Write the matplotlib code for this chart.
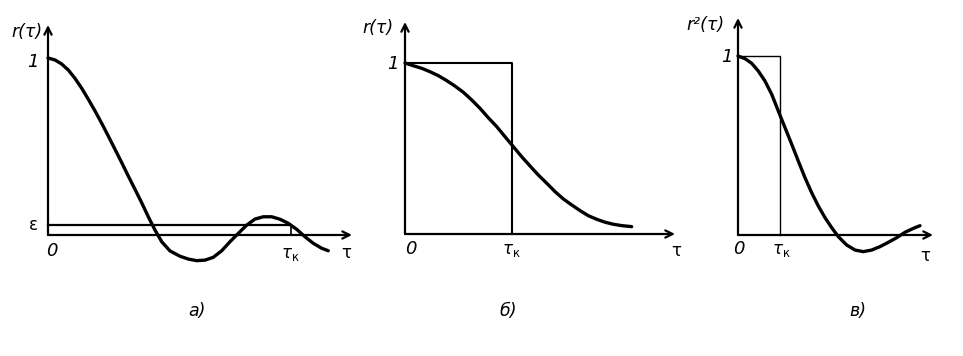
import matplotlib
matplotlib.use('Agg')
import matplotlib.pyplot as plt

plt.rcParams['font.family'] = ['DejaVu Sans']

# а) корреляционная функция r(τ)
tau_a = [0, 0.07, 0.137, 0.203, 0.27, 0.337, 0.403, 0.47, 0.537, 0.603, 0.67, 0.737, 0.803,
         0.87, 0.937, 1.003, 1.07, 1.137, 1.22, 1.32, 1.403, 1.487, 1.57, 1.653, 1.737,
         1.82, 1.903, 1.987, 2.07, 2.153, 2.237, 2.32, 2.403, 2.487, 2.57, 2.653, 2.737, 2.803]
r_a = [1.0, 0.989, 0.966, 0.932, 0.885, 0.829, 0.767, 0.701, 0.631, 0.559, 0.484, 0.409, 0.333,
       0.258, 0.182, 0.103, 0.028, -0.038, -0.090, -0.120, -0.136, -0.145, -0.142, -0.126, -0.089,
       -0.038, 0.009, 0.056, 0.090, 0.103, 0.103, 0.089, 0.066, 0.032, -0.010, -0.047, -0.075, -0.089]
eps_a = 0.056
tauk_a = 2.43

# б) r(τ) и прямоугольник
tau_b = [0, 0.083, 0.167, 0.25, 0.333, 0.417, 0.50, 0.583, 0.667, 0.75, 0.833, 0.917, 1.00, 1.083,
         1.167, 1.25, 1.333, 1.417, 1.50, 1.583, 1.667, 1.75, 1.833, 1.917, 2.00, 2.083, 2.167, 2.267]
r_b = [1.0, 0.984, 0.969, 0.949, 0.926, 0.897, 0.865, 0.829, 0.784, 0.735, 0.680, 0.628, 0.569, 0.511,
       0.452, 0.398, 0.345, 0.297, 0.248, 0.205, 0.170, 0.137, 0.107, 0.086, 0.069, 0.057, 0.049, 0.043]
tauk_b = 1.07

# в) r²(τ)
tau_c = [0, 0.07, 0.137, 0.203, 0.27, 0.337, 0.403, 0.47, 0.537, 0.603, 0.67, 0.737, 0.803,
         0.87, 0.937, 1.003, 1.087, 1.17, 1.253, 1.337, 1.42, 1.503, 1.587, 1.67, 1.753, 1.82]
r2_c = [1.0, 0.985, 0.959, 0.916, 0.860, 0.786, 0.693, 0.600, 0.507, 0.413, 0.320, 0.236, 0.162,
        0.097, 0.041, -0.009, -0.056, -0.084, -0.093, -0.084, -0.065, -0.041, -0.015, 0.015, 0.037, 0.052]
tauk_c = 0.42

W, H = 963, 356
fig = plt.figure(figsize=(W / 100, H / 100), dpi=100)


def make_axes(x0, y0, x1, top, bottom, ppu):
    # x0, y0 - начало координат в пикселях, x1/top - концы стрелок, ppu - пикселей на единицу r
    ax = fig.add_axes([x0 / W, (H - bottom) / H, (x1 - x0) / W, (bottom - top) / H])
    xmax = (x1 - x0) / 100
    ymin, ymax = (y0 - bottom) / ppu, (y0 - top) / ppu
    ax.set_xlim(0, xmax)
    ax.set_ylim(ymin, ymax)
    ax.axis('off')
    arrow = dict(arrowstyle='->', lw=1.6, color='k', mutation_scale=13, shrinkA=0, shrinkB=0)
    ax.annotate('', xy=(xmax, 0), xytext=(0, 0), arrowprops=arrow, annotation_clip=False)
    ax.annotate('', xy=(0, ymax), xytext=(0, 0), arrowprops=arrow, annotation_clip=False)
    return ax


txt = dict(ha='center', va='center', color='k')
lab = dict(fontsize=12.5, fontstyle='italic', **txt)
num = dict(fontsize=13, fontstyle='italic', **txt)
sym = dict(fontsize=12, **txt)
curve = dict(color='k', lw=2.4, clip_on=False, solid_joinstyle='round', solid_capstyle='round')

# а)
ax = make_axes(48, 235, 352, 25, 275, 177)
ax.plot(tau_a, r_a, **curve)
ax.plot([0, tauk_a], [eps_a, eps_a], color='k', lw=1.6, clip_on=False)
ax.plot([tauk_a, tauk_a], [0, eps_a], color='k', lw=1.2, clip_on=False)
ax.text(-0.21, 1.147, 'r(τ)', **lab)
ax.text(-0.15, 0.977, '1', **num)
ax.text(-0.15, 0.056, 'ε', **sym)
ax.text(0.04, -0.09, '0', **num)
ax.text(2.42, -0.107, r'$\tau_{\mathrm{к}}$', **sym)
ax.text(2.98, -0.10, 'τ', **sym)

# б)
ax = make_axes(405, 234, 675, 22, 275, 171)
ax.plot(tau_b, r_b, **curve)
ax.plot([0, tauk_b, tauk_b], [1, 1, 0], color='k', lw=1.5, clip_on=False)
ax.text(-0.27, 1.205, 'r(τ)', **lab)
ax.text(-0.12, 0.994, '1', **num)
ax.text(0.06, -0.088, '0', **num)
ax.text(1.06, -0.094, r'$\tau_{\mathrm{к}}$', **sym)
ax.text(2.71, -0.099, 'τ', **sym)

# в)
ax = make_axes(738, 235, 933, 18, 275, 179)
ax.plot(tau_c, r2_c, **curve)
ax.plot([0, tauk_c, tauk_c], [1, 1, 0], color='k', lw=1.0, clip_on=False)
ax.text(-0.33, 1.173, 'r²(τ)', **lab)
ax.text(-0.11, 0.994, '1', **num)
ax.text(0.01, -0.078, '0', **num)
ax.text(0.43, -0.084, r'$\tau_{\mathrm{к}}$', **sym)
ax.text(1.87, -0.117, 'τ', **sym)

# подписи
for label, xp in [('а)', 197), ('б)', 508), ('в)', 858)]:
    fig.text(xp / W, 1 - 311 / H, label, fontsize=12.5, fontstyle='italic', ha='center', va='center')

fig.savefig('out.png', dpi=100)
